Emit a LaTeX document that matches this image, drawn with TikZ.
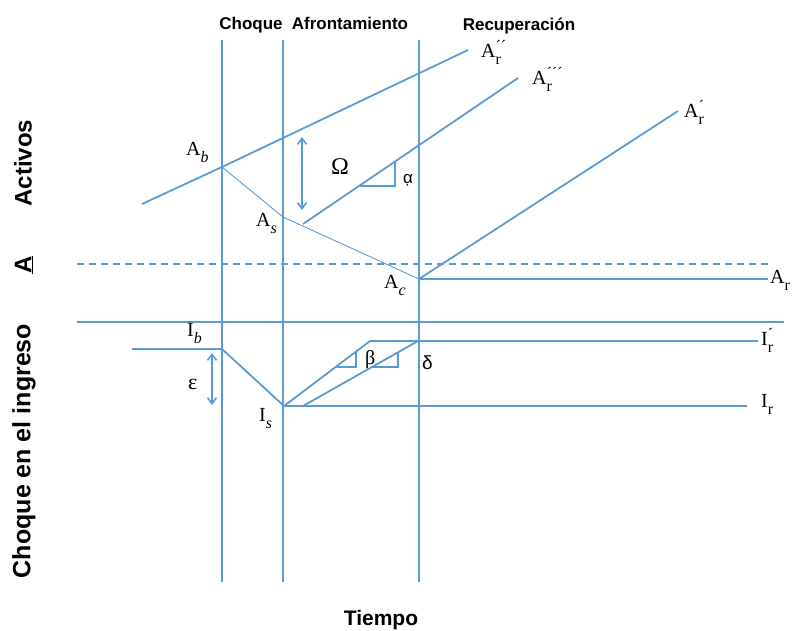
\documentclass[tikz,border=0pt]{standalone}
\usepackage{fontspec}
\setmainfont{Liberation Serif}
\setsansfont{Liberation Sans}
\usetikzlibrary{arrows.meta}
\definecolor{lnc}{HTML}{5B9BD5}
\newcommand{\sublab}[3]{#1\rlap{\raisebox{6pt}{\fontsize{16}{16}\selectfont #3}}\raisebox{-7pt}{\fontsize{16}{16}\selectfont #2}}
\begin{document}
\begin{tikzpicture}[x=1pt,y=-1pt,
  ln/.style={draw=lnc,line width=1.8pt},
  thinln/.style={draw=lnc,line width=0.9pt},
  tri/.style={draw=lnc,line width=1.4pt},
  dim/.style={draw=lnc,line width=1.6pt,{Straight Barb[length=6pt,width=9pt]}-{Straight Barb[length=6pt,width=9pt]}},
  lab/.style={inner sep=0pt,anchor=base west,font=\fontsize{20}{22}\selectfont},
  greek/.style={inner sep=0pt,anchor=base west},
  head/.style={inner sep=0pt,anchor=base,font=\sffamily\bfseries\fontsize{17}{20}\selectfont},
  side/.style={inner sep=0pt,rotate=90,font=\sffamily\bfseries\fontsize{24}{28}\selectfont}]
\useasboundingbox (0,0) rectangle (793,630);
% vertical lines
\coordinate (v1t) at (222,40); \coordinate (v1b) at (222,582);
\coordinate (v2t) at (283,40); \coordinate (v2b) at (283,582);
\coordinate (v3t) at (419,40); \coordinate (v3b) at (419,582);
\draw[ln] (v1t) -- (v1b);
\draw[ln] (v2t) -- (v2b);
\draw[ln] (v3t) -- (v3b);
% asset lines
\coordinate (l1s) at (142,204);
\coordinate (Ab) at (222,167);
\coordinate (l1e) at (468,50);
\coordinate (As) at (283,217);
\coordinate (Ac) at (419,279);
\coordinate (l2s) at (303,224);
\coordinate (l2e) at (518,78);
\coordinate (l3e) at (678,111);
\coordinate (are) at (768,279);
\draw[ln] (l1s) -- (Ab) -- (l1e);
\draw[thinln] (Ab) -- (As) -- (Ac);
\draw[ln] (l2s) -- (l2e);
\draw[ln] (Ac) -- (l3e);
\draw[ln] (Ac) -- (are);
% alpha triangle
\coordinate (ta1) at (360,186); \coordinate (ta2) at (395,186); \coordinate (ta3) at (395,162);
\draw[tri] (ta1) -- (ta2) -- (ta3);
% dashed and separator
\coordinate (ds) at (77,264); \coordinate (de) at (770,264);
\draw[draw=lnc,line width=1.5pt,dash pattern=on 7pt off 5pt] (ds) -- (de);
\coordinate (ss) at (77,322); \coordinate (se) at (784,322);
\draw[ln] (ss) -- (se);
% income lines
\coordinate (ibs) at (132,349);
\coordinate (Ib) at (222,349);
\coordinate (Is) at (284,406);
\coordinate (ir1) at (370,341);
\coordinate (irpe) at (758,341);
\coordinate (ire) at (747,406);
\coordinate (b2s) at (303,406);
\coordinate (b2e) at (418,341);
\draw[ln] (ibs) -- (Ib) -- (Is) -- (ir1) -- (irpe);
\draw[ln] (Is) -- (ire);
\draw[ln] (b2s) -- (b2e);
% beta / delta triangles
\coordinate (t11) at (336,367); \coordinate (t12) at (356,367); \coordinate (t13) at (356,352);
\draw[tri] (t11) -- (t12) -- (t13);
\coordinate (t21) at (372,367); \coordinate (t22) at (398,367); \coordinate (t23) at (398,353);
\draw[tri] (t21) -- (t22) -- (t23);
% dimension arrows
\coordinate (om1) at (302,137); \coordinate (om2) at (302,210);
\draw[dim] (om1) -- (om2);
\coordinate (ep1) at (212,353); \coordinate (ep2) at (212,405);
\draw[dim] (ep1) -- (ep2);
% headings
\node[head] (hch) at (251,29) {Choque};
\node[head] (haf) at (350,29) {Afrontamiento};
\node[head] (hre) at (519,30) {Recuperación};
\node[head,font=\sffamily\bfseries\fontsize{21}{24}\selectfont] (hti) at (381,625) {Tiempo};
\node[side] (sac) at (23,163) {Activos};
\node[side] (sa) at (24,265) {\underline{A}};
\node[side,font=\sffamily\bfseries\fontsize{25}{28}\selectfont] (sch) at (24,451) {Choque en el ingreso};
% labels
\node[lab] (lAb) at (186,155) {\sublab{A}{\textit{b}}{}};
\node[lab] (lAs) at (256,226) {\sublab{A}{\textit{s}}{}};
\node[lab] (lAc) at (384,288) {\sublab{A}{\textit{c}}{}};
\node[lab] (lAr) at (770,283) {\sublab{A}{r}{}};
\node[lab] (lAr2) at (481,57) {\sublab{A}{r}{´´}};
\node[lab] (lAr3) at (532,84) {\sublab{A}{r}{´´´}};
\node[lab] (lAr1) at (684,117) {\sublab{A}{r}{´}};
\node[lab] (lIb) at (187,336) {\sublab{I}{\textit{b}}{}};
\node[lab] (lIs) at (259,421) {\sublab{I}{\textit{s}}{}};
\node[lab] (lIr1) at (761,345) {\sublab{I}{r}{´}};
\node[lab] (lIr) at (761,407) {\sublab{I}{r}{}};
\node[greek,font=\fontsize{24}{26}\selectfont] (gom) at (331,174) {Ω};
\node[greek,font=\sffamily\fontsize{17}{20}\selectfont] (gal) at (403,183) {α̣};
\node[greek,font=\fontsize{22}{24}\selectfont] (gep) at (188,389) {ε};
\node[greek,font=\fontsize{20}{22}\selectfont] (gbe) at (365,364) {β};
\node[greek,font=\sffamily\fontsize{19}{22}\selectfont] (gde) at (422,369) {δ};
\end{tikzpicture}
\end{document}
